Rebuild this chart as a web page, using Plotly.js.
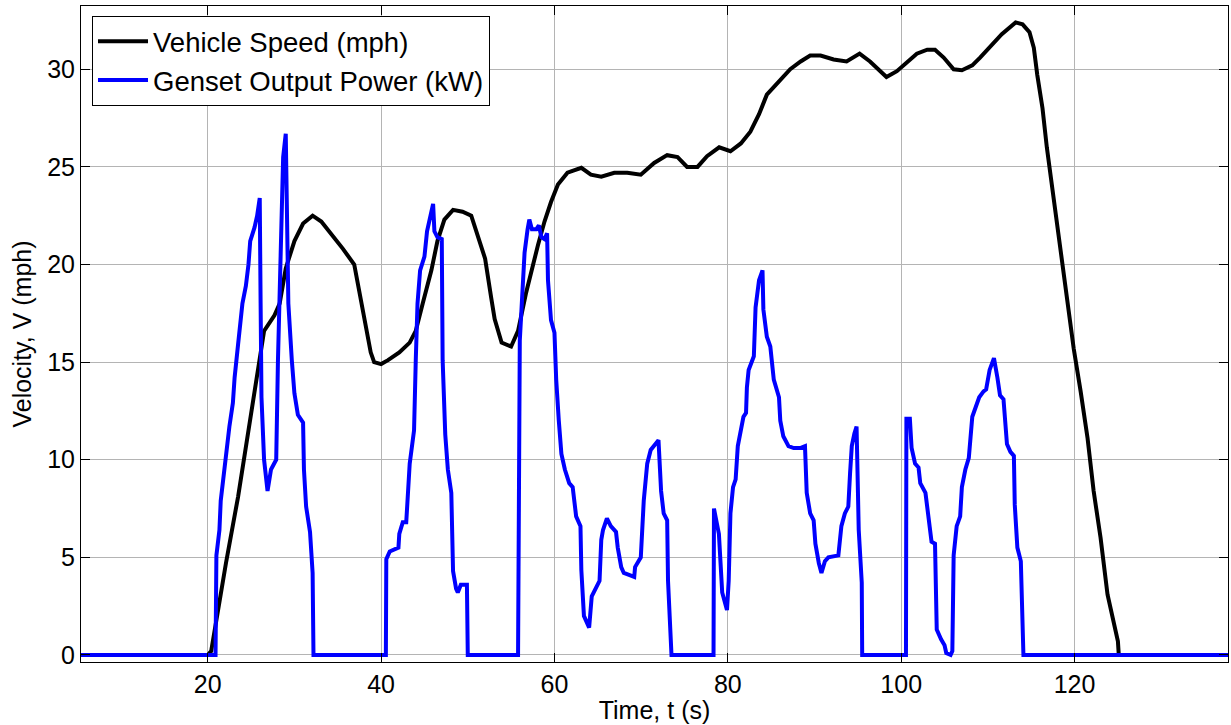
<!DOCTYPE html>
<html>
<head>
<meta charset="utf-8">
<script src="https://cdn.plot.ly/plotly-3.0.1.min.js"></script>
<style>html,body{margin:0;padding:0;background:#fff;}#chart{width:1231px;height:725px;}</style>
</head>
<body>
<div id="chart"></div>
<script>
// Vehicle speed (mph) vs time (s)
const timeSpeed = [5.4, 20.0, 20.4, 21, 22.1, 23.5, 24.8, 26, 26.5, 27.7,
  28.3, 29, 30, 31, 32.1, 33.1, 34.4, 35.6, 36.9, 37.5,
  38.1, 38.8, 39.2, 40, 40.8, 42.1, 43.3, 44, 44.8, 45.8,
  46.5, 47.3, 48.3, 49.4, 50.4, 51.2, 52, 52.7, 53.1, 53.9,
  55, 55.8, 56.7, 58.1, 58.85, 59.6, 60.4, 61.5, 63.1, 64.2,
  65.4, 66.9, 68.4, 69.96, 71.5, 73, 74.2, 75.3, 76.5, 77.6,
  79, 80.3, 81.5, 82.6, 83.6, 84.5, 85.7, 87.2, 88.4, 89.5,
  90.7, 92.2, 93.7, 95.2, 96.4, 97.5, 98.3, 99.5, 100.7, 101.8,
  103, 103.9, 104.9, 106.05, 107, 108.2, 109.1, 110.5, 111.6, 113.2,
  114, 114.8, 115.3, 115.7, 116.3, 116.8, 117.4, 118.4, 119.2, 119.9,
  120.7, 121.5, 122.2, 123, 123.8, 124.5, 125, 125.1, 137.7];
const speedMph = [0, 0, 0.2, 1.9, 4.7, 8.1, 11.7, 15.3, 16.6, 17.4,
  18.0, 19.8, 21.2, 22.1, 22.5, 22.2, 21.5, 20.8, 20.0, 18.5,
  17.0, 15.5, 15.0, 14.9, 15.1, 15.5, 16.0, 16.6, 18.0, 19.7,
  21.2, 22.3, 22.8, 22.7, 22.5, 21.4, 20.3, 18.3, 17.2, 16.0,
  15.8, 16.6, 18.5, 21.0, 22.2, 23.2, 24.1, 24.7, 24.95, 24.6,
  24.5, 24.7, 24.7, 24.6, 25.2, 25.6, 25.5, 25.0, 25.0, 25.55,
  26.0, 25.8, 26.2, 26.8, 27.7, 28.7, 29.3, 30.0, 30.4, 30.7,
  30.7, 30.5, 30.4, 30.8, 30.4, 29.9, 29.6, 29.9, 30.4, 30.8,
  31.0, 31.0, 30.6, 30.0, 29.95, 30.2, 30.6, 31.3, 31.8, 32.4,
  32.3, 31.9, 31.1, 29.7, 28.0, 26.0, 24.0, 20.6, 18.0, 15.7,
  13.5, 11.1, 8.4, 6.0, 3.1, 1.7, 0.7, 0, 0];

// Genset output power (kW) vs time (s)
const timePower = [5.4, 20.9, 21.0, 21.35, 21.5, 21.9, 22.5, 22.9, 23.1, 23.5,
  23.8, 24.0, 24.4, 24.7, 24.9, 25.4, 25.7, 26.0, 26.1, 26.2,
  26.5, 26.9, 27.3, 27.9, 28.1, 28.5, 28.7, 29.0, 29.1, 29.3,
  29.7, 30.0, 30.4, 31.0, 31.1, 31.35, 31.8, 32.1, 32.2,
  40.55, 40.6, 41.0, 42.0, 42.1, 42.5, 42.9, 43.3, 43.8, 44.0,
  44.2, 44.5, 45.0, 45.3, 45.6, 46.0, 46.15, 46.5, 47.0, 47.1,
  47.4, 47.7, 48.1, 48.3, 48.65, 48.85, 49.2, 49.9, 50.0,
  55.8, 56.0, 56.2, 56.55, 56.9, 57.1, 57.4, 57.9, 58.2, 58.5,
  58.85, 59.15, 59.25, 59.6, 60.0, 60.2, 60.5, 60.8, 61.2, 61.7,
  62.1, 62.5, 63.0, 63.1, 63.4, 64.0, 64.3, 64.6, 65.2, 65.4,
  65.6, 66.05, 66.5, 67.1, 67.3, 67.7, 68.0, 68.6, 69.2, 69.3,
  69.96, 70.3, 70.7, 71.1, 71.6, 72.0, 72.3, 72.6, 73.0, 73.1,
  73.5,
  78.35, 78.4, 78.7, 78.97, 79.35, 79.9, 80.1, 80.3, 80.6, 80.9,
  81.15, 81.5, 81.8, 82.1, 82.2, 82.4, 82.7, 83.0, 83.2, 83.6,
  84.0, 84.1, 84.5, 84.9, 85.3, 85.9, 86.05, 86.4, 87.0, 87.6,
  88.35, 88.9, 89.1, 89.5, 89.9, 90.1, 90.5, 90.8, 91.2, 91.6,
  92.75, 93.1, 93.5, 93.9, 94.1, 94.3, 94.6, 94.85, 95.1, 95.45,
  95.5,
  100.55, 100.6, 101.0, 101.2, 101.6, 102.0, 102.2, 102.8, 103.2, 103.5,
  103.9, 104.1, 104.6, 105.0, 105.2, 105.7, 105.9, 106.05, 106.4, 106.8,
  107.0, 107.4, 107.8, 108.2, 108.6, 109.0, 109.5, 109.8, 110.2, 110.7,
  111.1, 111.4, 111.8, 112.2, 112.6, 113.0, 113.1, 113.4, 113.8, 114.1,
  137.7];
const powerKW = [0, 0, 5.1, 6.4, 7.9, 9.6, 11.7, 12.9, 14.2, 15.9,
  17.0, 18.0, 18.9, 20.0, 21.2, 21.9, 22.5, 23.4, 18.0, 13.2,
  10.0, 8.4, 9.5, 10.0, 15.1, 22.7, 25.5, 26.7, 23.6, 18.0,
  15.1, 13.4, 12.3, 11.9, 9.5, 7.6, 6.3, 4.2, 0,
  0, 4.9, 5.3, 5.5, 6.2, 6.8, 6.8, 9.8, 11.5, 15.1,
  18.0, 19.7, 20.4, 21.7, 22.3, 23.1, 21.7, 21.4, 21.3, 15.1,
  11.3, 9.5, 8.3, 4.3, 3.4, 3.2, 3.6, 3.6, 0,
  0, 16.1, 17.8, 20.6, 21.8, 22.3, 21.8, 21.8, 22.0, 21.4,
  21.3, 21.6, 19.2, 17.15, 16.5, 14.1, 12.0, 10.3, 9.5, 8.8,
  8.6, 7.1, 6.6, 4.35, 2.0, 1.4, 3.0, 3.3, 3.8, 5.9,
  6.4, 7.0, 6.6, 6.3, 5.5, 4.5, 4.2, 4.1, 4.0, 4.5,
  5.0, 7.9, 9.8, 10.5, 10.8, 11.0, 8.4, 7.25, 6.9, 3.8,
  0,
  0, 7.5, 6.9, 6.2, 3.2, 2.3, 3.8, 7.25, 8.6, 9.0,
  10.7, 11.5, 12.2, 12.4, 13.7, 14.6, 15.0, 15.3, 17.8, 19.2,
  19.7, 17.7, 16.3, 15.8, 14.1, 13.2, 12.0, 11.2, 10.7, 10.6,
  10.6, 10.7, 8.3, 7.25, 6.9, 5.7, 4.7, 4.2, 4.8, 5.0,
  5.1, 6.6, 7.25, 7.6, 9.3, 10.7, 11.35, 11.7, 6.4, 3.7,
  0,
  0, 12.1, 12.1, 10.6, 9.8, 9.6, 8.8, 8.3, 6.6, 5.8,
  5.7, 1.3, 0.8, 0.5, 0.1, 0, 0.2, 5.1, 6.6, 7.1,
  8.6, 9.5, 10.1, 12.2, 12.7, 13.2, 13.5, 13.6, 14.6, 15.2,
  14.2, 13.3, 13.1, 10.8, 10.4, 10.2, 7.7, 5.5, 4.8, 0,
  0];

const seriesNames = ['Vehicle Speed (mph)', 'Genset Output Power (kW)'];
const xTicks = [20, 40, 60, 80, 100, 120];
const yTicks = [0, 5, 10, 15, 20, 25, 30];

const FONT = 'Liberation Sans, Arial, Helvetica, sans-serif';

const traces = [
  {x: timeSpeed, y: speedMph, name: seriesNames[0], type: 'scatter', mode: 'lines',
   line: {color: '#000000', width: 4}},
  {x: timePower, y: powerKW, name: seriesNames[1], type: 'scatter', mode: 'lines',
   line: {color: '#0000ff', width: 4}}
];

const axisCommon = {
  ticks: 'inside', ticklen: 9, tickwidth: 1, tickcolor: '#000',
  showline: true, linecolor: '#000', linewidth: 1, mirror: 'ticks',
  showgrid: true, gridcolor: '#b4b4b4', gridwidth: 1, zeroline: false,
  tickfont: {family: FONT, size: 25, color: '#000'}
};

const layout = {
  width: 1231, height: 725,
  margin: {l: 81, r: 3, t: 6, b: 63},
  paper_bgcolor: '#fff', plot_bgcolor: '#fff',
  font: {family: FONT, color: '#000'},
  showlegend: true,
  xaxis: Object.assign({}, axisCommon, {
    range: [5.38, 137.7], tickmode: 'array', tickvals: xTicks,
    ticktext: xTicks.map(String),
    title: {text: 'Time, t (s)', font: {family: FONT, size: 25, color: '#000'}, standoff: 4}
  }),
  yaxis: Object.assign({}, axisCommon, {
    range: [-0.36, 33.24], tickmode: 'array', tickvals: yTicks,
    ticktext: yTicks.map(String),
    title: {text: 'Velocity, V (mph)', font: {family: FONT, size: 25, color: '#000'}, standoff: 8}
  }),
  legend: {
    x: 0.0096, y: 0.985, xanchor: 'left', yanchor: 'top',
    bgcolor: '#fff', bordercolor: '#000', borderwidth: 1,
    font: {family: FONT, size: 27.5, color: '#000'},
    tracegroupgap: 0, itemwidth: 50
  }
};

Plotly.newPlot('chart', traces, layout, {displayModeBar: false, staticPlot: true});
</script>
</body>
</html>
